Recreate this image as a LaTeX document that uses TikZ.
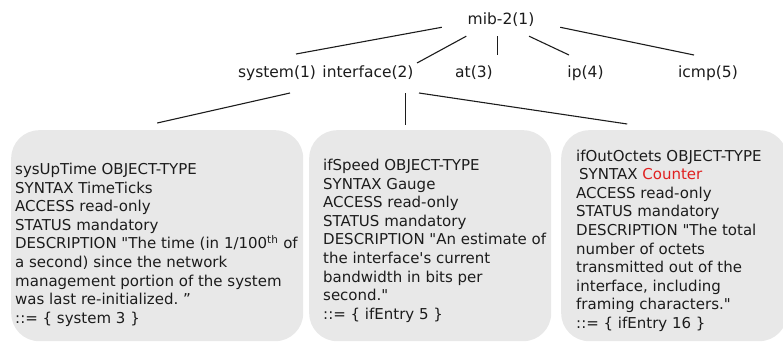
\documentclass[tikz,border=0pt]{standalone}
\usepackage{fontspec}
\setmainfont{DejaVu Sans}
\usetikzlibrary{calc}
\definecolor{boxgray}{HTML}{E8E8E8}
\definecolor{syntaxred}{HTML}{E02020}
\definecolor{inkgray}{HTML}{1C1C1C}

\begin{document}
\begin{tikzpicture}[x=1pt, y=-1pt]
    \tikzstyle{oid} = [inner sep=0pt, text=inkgray, font=\fontsize{15.5}{18}\selectfont]
    \tikzstyle{objbox} = [rectangle, rounded corners=28pt, fill=boxgray,
        minimum height=211pt, anchor=north west]
    \tikzstyle{objtext} = [inner sep=0pt, anchor=west, align=left, text=inkgray,
        font=\fontsize{15}{18.6}\selectfont]
    \tikzstyle{branch} = [line width=1.1pt, draw=inkgray]

    \useasboundingbox (0,0) rectangle (783,343);

    % MIB tree
    \node (mib) [oid, minimum width=118pt, minimum height=32pt] at (501,20) {mib-2(1)};
    \node (sys) [oid] at (277,73) {system(1)};
    \node (intf) [oid] at (368,73) {interface(2)};
    \node (at3) [oid] at (474,73) {at(3)};
    \node (ip4) [oid] at (585.5,73) {ip(4)};
    \node (icmp) [oid] at (708,73) {icmp(5)};

    \coordinate (attop) at ($(at3)+(23.5,-18)$);
    \draw [branch] (mib.187) -- ($(sys)+(19,-19)$);
    \draw [branch] (mib.205) -- ($(intf)+(49,-10)$);
    \draw [branch] (mib.south -| attop) -- (attop);
    \draw [branch] (mib.330) -- ($(ip4)+(-16.5,-18)$);
    \draw [branch] (mib.353) -- ($(icmp)+(-14,-18)$);

    % object definitions
    \node (box1) [objbox, minimum width=292pt] at (11,130) {};
    \node (box2) [objbox, minimum width=242pt] at (309,130) {};
    \node (box3) [objbox, minimum width=226pt] at (561,130) {};

    \node (def1) [objtext] at ($(box1.west)+(4,9)$) {sysUpTime OBJECT-TYPE\\
        SYNTAX TimeTicks\\
        ACCESS read-only\\
        STATUS mandatory\\
        DESCRIPTION \textquotedbl The time (in 1/100\textsuperscript{th} of\\
        a second) since the network\\
        management portion of the system\\
        was last re-initialized.~”\\
        ::= \{ system 3 \}};
    \node (def2) [objtext] at ($(box2.west)+(14,5)$) {ifSpeed OBJECT-TYPE\\
        SYNTAX Gauge\\
        ACCESS read-only\\
        STATUS mandatory\\
        DESCRIPTION \textquotedbl An estimate of\\
        the interface\textquotesingle s current\\
        bandwidth in bits per\\
        second.\textquotedbl\\
        ::= \{ ifEntry 5 \}};
    \node (def3) [objtext] at ($(box3.west)+(15,5)$) {ifOutOctets OBJECT-TYPE\\
        \hspace*{3pt}SYNTAX \textcolor{syntaxred}{Counter}\\
        ACCESS read-only\\
        STATUS mandatory\\
        DESCRIPTION \textquotedbl The total\\
        number of octets\\
        transmitted out of the\\
        interface, including\\
        framing characters.\textquotedbl\\
        ::= \{ ifEntry 16 \}};

    \draw [branch] ($(sys)+(13,20)$) -- ($(box1.north)+(0,-7)$);
    \coordinate (intfdown) at ($(intf)+(37.5,20)$);
    \draw [branch, shorten >=5pt] (intfdown) -- (intfdown |- box2.north);
    \draw [branch] ($(intf)+(51,20)$) -- ($(box3.north)+(-47,-6)$);
\end{tikzpicture}
\end{document}
